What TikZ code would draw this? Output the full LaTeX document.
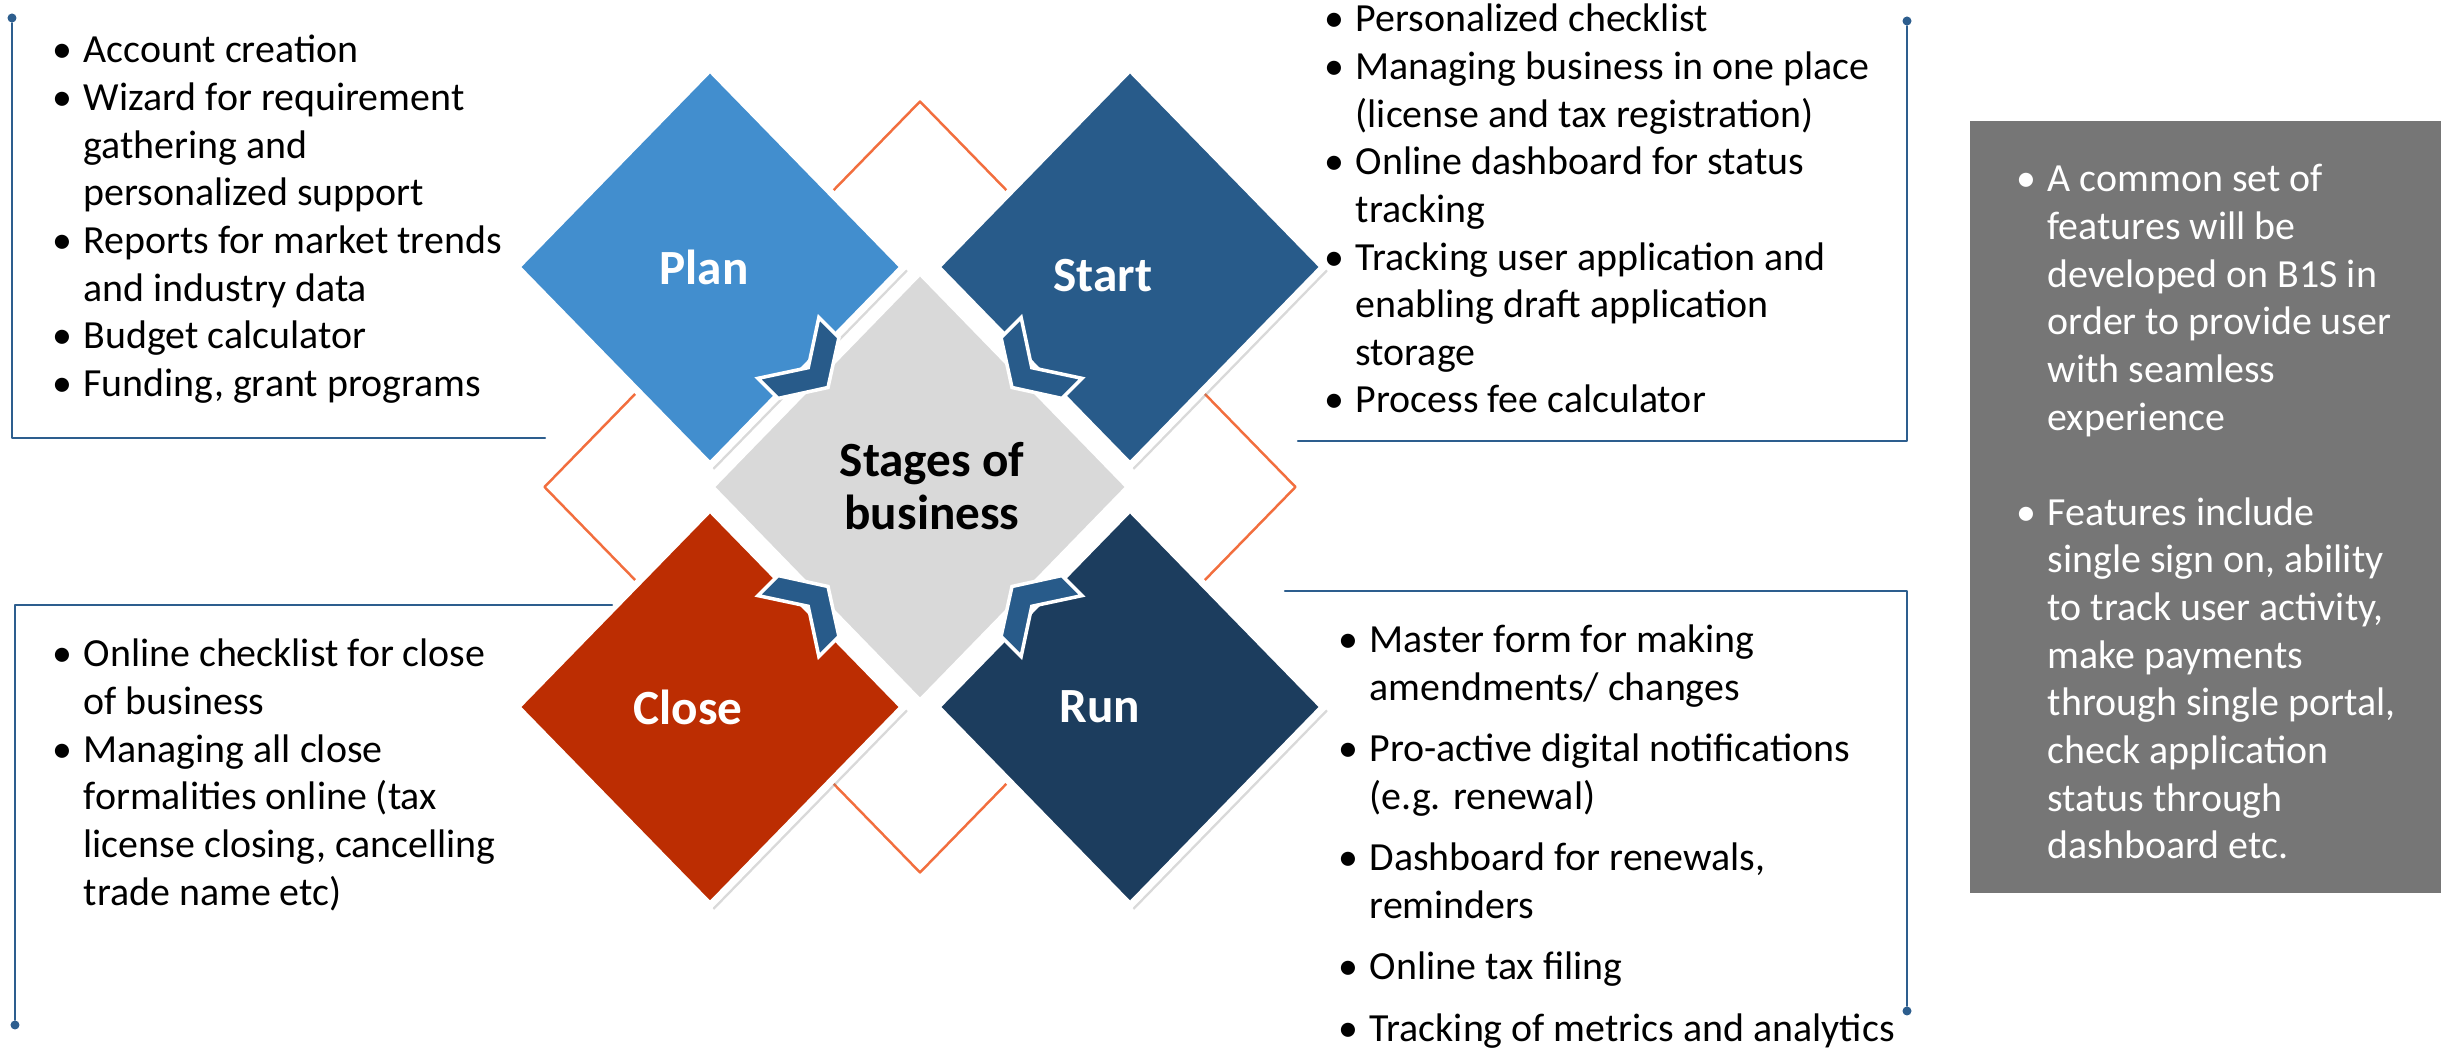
\documentclass[tikz,border=0pt]{standalone}
\usepackage{fontspec}
\setmainfont{Carlito}
\usetikzlibrary{shapes.geometric,shadows}
\definecolor{planblue}{RGB}{66,142,206}
\definecolor{startblue}{RGB}{40,91,138}
\definecolor{closered}{RGB}{188,45,2}
\definecolor{runnavy}{RGB}{28,61,94}
\definecolor{hubgray}{RGB}{217,217,217}
\definecolor{ringorange}{RGB}{242,110,62}
\definecolor{rulerblue}{RGB}{45,94,142}
\definecolor{boxgray}{RGB}{118,118,118}
\newcommand{\bl}{\makebox[0.42cm][c]{\textbullet}}
\begin{document}
\begin{tikzpicture}[line join=round, line cap=round,
	stage/.style={diamond, minimum width=3.90cm, minimum height=4.00cm, inner sep=0pt, draw=white, line width=2pt,
		drop shadow={shadow xshift=1.2pt, shadow yshift=-1.2pt, opacity=.3}},
	hub/.style={diamond, minimum width=4.22cm, minimum height=4.34cm, inner sep=0pt, fill=hubgray, draw=white, line width=2pt},
	ring/.style={diamond, minimum width=7.52cm, minimum height=7.72cm, inner sep=0pt, draw=ringorange, line width=0.7pt},
	stagelabel/.style={text=white, font=\fontsize{14}{16}\selectfont\bfseries},
	listtext/.style={anchor=base west, inner sep=0pt, font=\fontsize{11.35}{13.55}\selectfont},
	bracket/.style={draw=rulerblue, line width=0.7pt},
	enddot/.style={circle, fill=rulerblue, inner sep=0pt, minimum size=0.09cm},
	chev/.style={fill=startblue, draw=white, line width=1pt, line join=miter}]
	\useasboundingbox (0,0) rectangle (24.41,-10.52);
	% outline ring and the four stages
	\node[ring] (ring) at (9.20,-4.87) {};
	\node[stage, fill=planblue] (plan) at (7.10,-2.67) {};
	\node[stage, fill=startblue] (start) at (11.30,-2.67) {};
	\node[hub] (hub) at (9.20,-4.87) {};
	\node[stage, fill=closered] (close) at (7.10,-7.07) {};
	\node[stage, fill=runnavy] (run) at (11.30,-7.07) {};
	\node[stagelabel] (plan-t) at ([xshift=-0.06cm]plan.center) {Plan};
	\node[stagelabel] (start-t) at ([xshift=-0.27cm,yshift=-0.09cm]start.center) {Start};
	\node[stagelabel] (close-t) at ([xshift=-0.22cm]close.center) {Close};
	\node[stagelabel] (run-t) at ([xshift=-0.30cm]run.center) {Run};
	\node[font=\fontsize{14}{15}\selectfont\bfseries, align=center] (hub-t) at ([xshift=0.12cm,yshift=0.01cm]hub.center) {Stages of\\business};
	% chevrons
	\foreach \x/\y/\a in {8.28/-3.875/-45, 10.12/-3.875/-135, 8.28/-5.865/45, 10.12/-5.865/135}{
		\draw[chev, shift={(\x,\y)}, rotate=\a] (0,0) -- (-0.276,0.431) -- (-0.56,0.431) -- (-0.28,0) -- (-0.56,-0.431) -- (-0.276,-0.431) -- cycle;
	}
	% brackets
	\foreach \n/\dx/\dy/\cy/\ex in {pl/0.12/-0.18/-4.38/5.45, st/19.07/-0.21/-4.41/12.98, cl/0.15/-10.25/-6.05/6.12, ru/19.07/-10.11/-5.91/12.85}{
		\node[enddot] (dot-\n) at (\dx,\dy) {};
		\coordinate (bend-\n) at (\dx,\cy);
		\coordinate (tip-\n) at (\ex,\cy);
		\draw[bracket] (dot-\n) -- (bend-\n) -- (tip-\n);
	}
	% lists
	\node[listtext] (plan-list) at (0.41,-0.63) {\begin{tabular}[t]{@{}l@{}l@{}}
		\bl & Account creation\\
		\bl & Wizard for requirement\\
		& gathering and\\
		& personalized support\\
		\bl & Reports for market trends\\
		& and industry data\\
		\bl & Budget calculator\\
		\bl & Funding, grant programs
	\end{tabular}};
	\node[listtext] (start-list) at (13.13,-0.32) {\begin{tabular}[t]{@{}l@{}l@{}}
		\bl & Personalized checklist\\
		\bl & Managing business in one place\\
		& (license and tax registration)\\
		\bl & Online dashboard for status\\
		& tracking\\
		\bl & Tracking user application and\\
		& enabling draft application\\
		& storage\\
		\bl & Process fee calculator
	\end{tabular}};
	\node[listtext] (close-list) at (0.41,-6.67) {\begin{tabular}[t]{@{}l@{}l@{}}
		\bl & Online checklist for close\\
		& of business\\
		\bl & Managing all close\\
		& formalities online (tax\\
		& license closing, cancelling\\
		& trade name etc)
	\end{tabular}};
	\node[listtext] (run-list) at (13.27,-6.53) {\begin{tabular}[t]{@{}l@{}l@{}}
		\bl & Master form for making\\
		& amendments/ changes\\[3.9pt]
		\bl & Pro-active digital notifications\\
		& (e.g. renewal)\\[3.9pt]
		\bl & Dashboard for renewals,\\
		& reminders\\[3.9pt]
		\bl & Online tax filing\\[3.9pt]
		\bl & Tracking of metrics and analytics
	\end{tabular}};
	% common features
	\node[fill=boxgray, minimum width=4.72cm, minimum height=7.72cm, inner sep=0pt, anchor=north west] (featbox) at (19.69,-1.20) {};
	\node[listtext, text=white] (feat-list) at (20.05,-1.92) {\begin{tabular}[t]{@{}l@{}l@{}}
		\bl & A common set of\\
		& features will be\\
		& developed on B1S in\\
		& order to provide user\\
		& with seamless\\
		& experience\\
		& \\
		\bl & Features include\\
		& single sign on, ability\\
		& to track user activity,\\
		& make payments\\
		& through single portal,\\
		& check application\\
		& status through\\
		& dashboard etc.
	\end{tabular}};
\end{tikzpicture}
\end{document}
